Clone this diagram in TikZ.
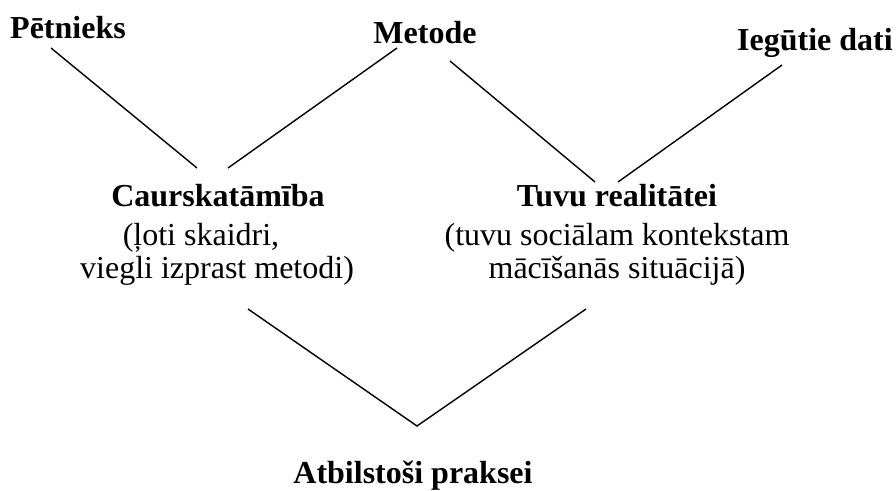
\documentclass[tikz,border=0pt]{standalone}
\usepackage{fontspec}
\setmainfont{Liberation Serif}
\begin{document}
\begin{tikzpicture}[x=1pt,y=-1pt,
  lbl/.style={inner sep=0pt,anchor=base,font=\fontsize{32}{36}\selectfont\bfseries},
  txt/.style={inner sep=0pt,anchor=base,font=\fontsize{32}{36}\selectfont},
  conn/.style={line width=1.4pt,line cap=butt}]
\useasboundingbox (0,0) rectangle (896,490);
% labels
\node[lbl] (pet) at (68,38) {Pētnieks};
\node[lbl] (met) at (425,43) {Metode};
\node[lbl] (ieg) at (815,50) {Iegūtie dati};
\node[lbl] (cau) at (218,206) {Caurskatāmība};
\node[txt] (cau2) at (201,245) {(ļoti skaidri,};
\node[txt] (cau3) at (217,278) {viegli izprast metodi)};
\node[lbl] (tuv) at (617,206) {Tuvu realitātei};
\node[txt] (tuv2) at (617,245) {(tuvu sociālam kontekstam};
\node[txt] (tuv3) at (617,278) {mācīšanās situācijā)};
\node[lbl] (atb) at (413,483) {Atbilstoši praksei};
% connector end points
\coordinate (p1) at (51,48);
\coordinate (c1) at (197,168);
\coordinate (m1) at (397,48);
\coordinate (c2) at (228,168);
\coordinate (m2) at (450,61);
\coordinate (t1) at (595,182);
\coordinate (i1) at (782,65);
\coordinate (t2) at (618,182);
\coordinate (v1) at (248,309);
\coordinate (v0) at (417,426);
\coordinate (v2) at (586,309);
% connectors
\draw[conn] (p1) -- (c1);
\draw[conn] (m1) -- (c2);
\draw[conn] (m2) -- (t1);
\draw[conn] (i1) -- (t2);
\draw[conn,line join=miter] (v1) -- (v0) -- (v2);
\end{tikzpicture}
\end{document}
